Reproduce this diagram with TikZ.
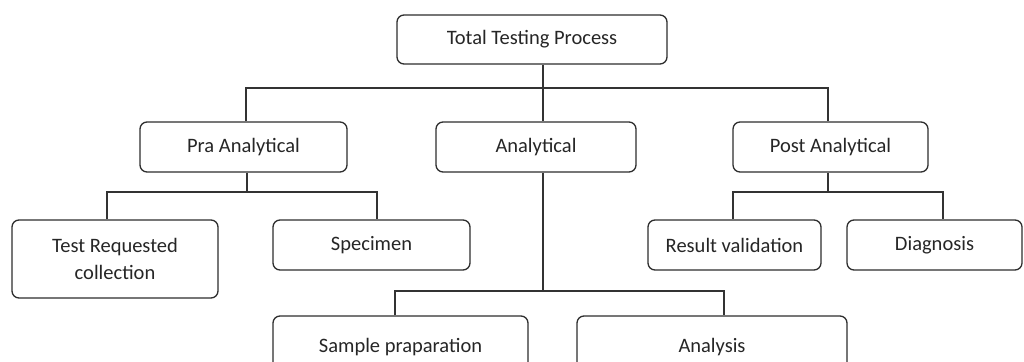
\documentclass[tikz,border=0pt]{standalone}
\usepackage{fontspec}
\setmainfont{Carlito}
\begin{document}
\begin{tikzpicture}[x=1pt,y=-1pt,
  box/.style={draw=black!82, line width=1.3pt, rounded corners=7pt, fill=white,
    inner sep=0pt, align=center, text=black!85,
    font=\fontsize{20.5}{27}\selectfont},
  link/.style={draw=black!80, line width=1.2pt}]
\useasboundingbox (0,0) rectangle (1024,361);

% level 0
\node[box, minimum width=270, minimum height=49] (top) at (532,39.5) {Total Testing Process};

% level 1
\node[box, minimum width=207, minimum height=50] (pra)  at (243.5,147) {Pra Analytical};
\node[box, minimum width=200, minimum height=50] (ana)  at (536,147)   {Analytical};
\node[box, minimum width=195, minimum height=50] (post) at (830.5,147) {Post Analytical};

% level 2
\node[box, minimum width=206, minimum height=78] (treq) at (115,259)   {Test Requested\\collection};
\node[box, minimum width=197, minimum height=50] (spec) at (371.5,245) {Specimen};
\node[box, minimum width=173, minimum height=50] (resv) at (734.5,245) {Result validation};
\node[box, minimum width=175, minimum height=50] (diag) at (934.5,245) {Diagnosis};
\node[box, minimum width=255, minimum height=62] (samp) at (400.5,347) {Sample praparation};
\node[box, minimum width=270, minimum height=62] (anal) at (712,347)   {Analysis};

% bus coordinates
\coordinate (b1) at (543,88);
\coordinate (p1) at (246,88);
\coordinate (p2) at (828,88);
\coordinate (q0) at (247,192);
\coordinate (q1) at (107,192);
\coordinate (q2) at (377,192);
\coordinate (b2) at (543,291);
\coordinate (r1) at (395,291);
\coordinate (r2) at (724,291);
\coordinate (s0) at (828,192);
\coordinate (s1) at (733,192);
\coordinate (s2) at (943,192);

% connectors
\draw[link] (top.south -| b1) -- (ana.north -| b1);
\draw[link] (pra.north -| p1) -- (p1) -- (p2) -- (post.north -| p2);

\draw[link] (pra.south -| q0) -- (q0);
\draw[link] (treq.north -| q1) -- (q1) -- (q2) -- (spec.north -| q2);

\draw[link] (ana.south -| b2) -- (b2);
\draw[link] (samp.north -| r1) -- (r1) -- (r2) -- (anal.north -| r2);

\draw[link] (post.south -| s0) -- (s0);
\draw[link] (resv.north -| s1) -- (s1) -- (s2) -- (diag.north -| s2);
\end{tikzpicture}
\end{document}
